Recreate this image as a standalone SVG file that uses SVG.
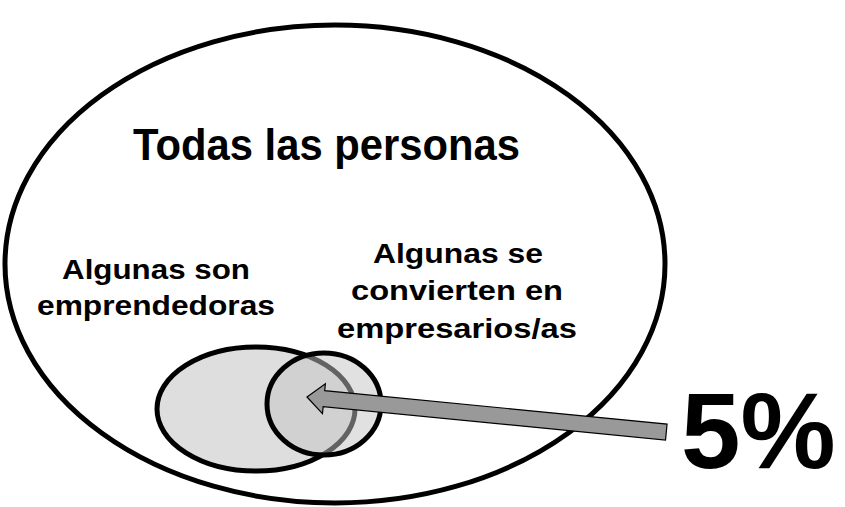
<svg xmlns="http://www.w3.org/2000/svg" width="845" height="507" viewBox="0 0 845 507">
<style>
text{font-family:"Liberation Sans",Arial,sans-serif;font-weight:bold;fill:#000;text-anchor:middle}
.t1{font-size:44px}
.t2{font-size:27px}
.big{font-size:107px;text-anchor:start}
</style>
<rect width="845" height="507" fill="#fff"/>
<g id="todas">
<ellipse cx="335" cy="264" rx="330" ry="239" fill="none" stroke="#000" stroke-width="5"/>
<text class="t1" x="326.5" y="160" textLength="387" lengthAdjust="spacingAndGlyphs">Todas las personas</text>
</g>
<g id="emprendedoras">
<ellipse cx="256" cy="409" rx="99" ry="62" fill="#dedede" stroke="#000" stroke-width="5"/>
<text class="t2" x="156" y="279" textLength="188" lengthAdjust="spacingAndGlyphs">Algunas son</text>
<text class="t2" x="156" y="315" textLength="238" lengthAdjust="spacingAndGlyphs">emprendedoras</text>
</g>
<g id="empresarios">
<ellipse cx="324" cy="404" rx="57" ry="51" fill="#c4c4c4" fill-opacity="0.5" stroke="#000" stroke-width="5"/>
<text class="t2" x="458" y="263" textLength="170" lengthAdjust="spacingAndGlyphs">Algunas se</text>
<text class="t2" x="457" y="300" textLength="212" lengthAdjust="spacingAndGlyphs">convierten en</text>
<text class="t2" x="457" y="338" textLength="240" lengthAdjust="spacingAndGlyphs">empresarios/as</text>
</g>
<g id="connectors">
<polygon transform="translate(307,397) rotate(5.57)" points="0,0 17,-15 17,-8 361,-8 361,8 17,8 17,15" fill="#999" stroke="#000" stroke-width="1.2" stroke-linejoin="miter"/>
</g>
<g id="pct">
<text class="big" x="681" y="468">5%</text>
</g>
</svg>
